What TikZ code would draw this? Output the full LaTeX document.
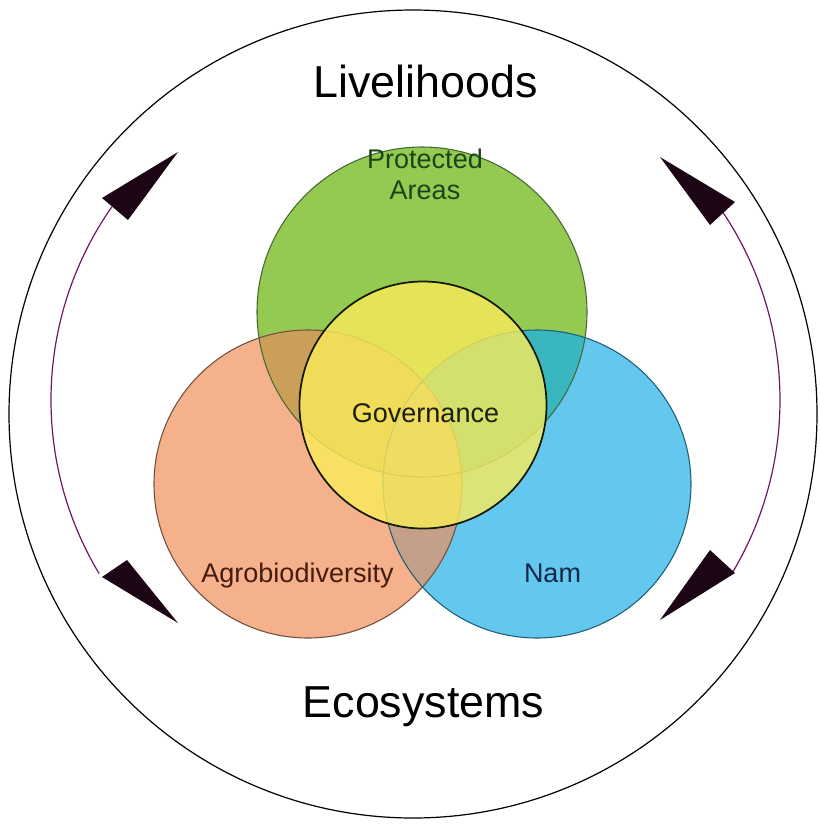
\documentclass[tikz,border=0pt]{standalone}
\usepackage{fontspec}
\setmainfont{Liberation Sans}
\usepackage{tikz}
\usetikzlibrary{positioning}

\definecolor{pagreen}{RGB}{148,201,82}
\definecolor{agorange}{RGB}{245,176,140}
\definecolor{namblue}{RGB}{100,200,238}
\definecolor{paag}{RGB}{202,160,88}
\definecolor{panam}{RGB}{58,182,190}
\definecolor{agnam}{RGB}{196,160,136}
\definecolor{govyellow}{RGB}{250,235,90}
\definecolor{arcpurple}{RGB}{110,25,100}
\definecolor{headdark}{RGB}{28,6,22}

% circle paths of the diagram
\newcommand{\pacirc}{(422,312) circle [radius=165]}
\newcommand{\agcirc}{(308,484) circle [radius=154]}
\newcommand{\namcirc}{(537,484) circle [radius=154]}
\newcommand{\govcirc}{(423,405) circle [radius=123.5]}

\tikzset{
  vennlabel/.style={anchor=base,inner sep=0pt,font=\fontsize{20.25}{23.25}\selectfont,align=center},
  biglabel/.style={anchor=base,inner sep=0pt,font=\fontsize{33.6}{40}\selectfont},
  headfill/.style={fill=headdark},
  cycleline/.style={draw=arcpurple,line width=0.9},
}

\begin{document}
\begin{tikzpicture}[x=0.75pt,y=0.75pt,yscale=-1,xscale=1]
\useasboundingbox (0,0) rectangle (820,825);

%Shape: Circle [outer]
\draw [line width=0.9] (413,414) circle [radius=404];

%Shape: Circle fills
\fill [pagreen] \pacirc;
\fill [agorange] \agcirc;
\fill [namblue] \namcirc;
% overlaps
\begin{scope}
  \clip \pacirc;
  \fill [paag] \agcirc;
  \fill [panam] \namcirc;
\end{scope}
\begin{scope}
  \clip \agcirc;
  \fill [agnam] \namcirc;
\end{scope}

%Shape: Circle outlines
\draw [color={rgb, 255:red, 70; green, 105; blue, 50 }, line width=0.8] \pacirc;
\draw [color={rgb, 255:red, 115; green, 80; blue, 60 }, line width=0.8] \agcirc;
\draw [color={rgb, 255:red, 30; green, 95; blue, 120 }, line width=0.8] \namcirc;

%Shape: Circle [governance]
\fill [govyellow, fill opacity=0.8] \govcirc;
\draw [color={rgb, 255:red, 20; green, 25; blue, 10 }, line width=1.3] \govcirc;

%Curves: left and right cycle
\draw [cycleline] (388,400) ++(149:337) arc (149:215:337);
\draw [cycleline] (443,400) ++(31:337) arc (31:-35:337);

%Shape: Triangles [arrow heads]
\fill [headfill] (178,152) -- (102,198) -- (128,220) -- cycle;
\fill [headfill] (178,623) -- (102,577) -- (127,560) -- cycle;
\fill [headfill] (660,157) -- (735,202) -- (710,225) -- cycle;
\fill [headfill] (660,620) -- (735,573) -- (710,550) -- cycle;

% Text Node
\node (livelihoods) [biglabel] at (425.5,97) {Livelihoods};
% Text Node
\node (ecosystems) [biglabel] at (423.5,717) {Ecosystems};
% Text Node
\node (protected) [vennlabel, text={rgb,255:red,25;green,70;blue,25}] at (425,199) {Protected\\Areas};
% Text Node
\node (governance) [vennlabel, text={rgb,255:red,30;green,30;blue,10}] at (425.5,422) {Governance};
% Text Node
\node (agro) [vennlabel, text={rgb,255:red,70;green,28;blue,15}] at (297.5,582) {Agrobiodiversity};
% Text Node
\node (nam) [vennlabel, text={rgb,255:red,15;green,40;blue,75}] at (552.5,582) {Nam};

\end{tikzpicture}
\end{document}
